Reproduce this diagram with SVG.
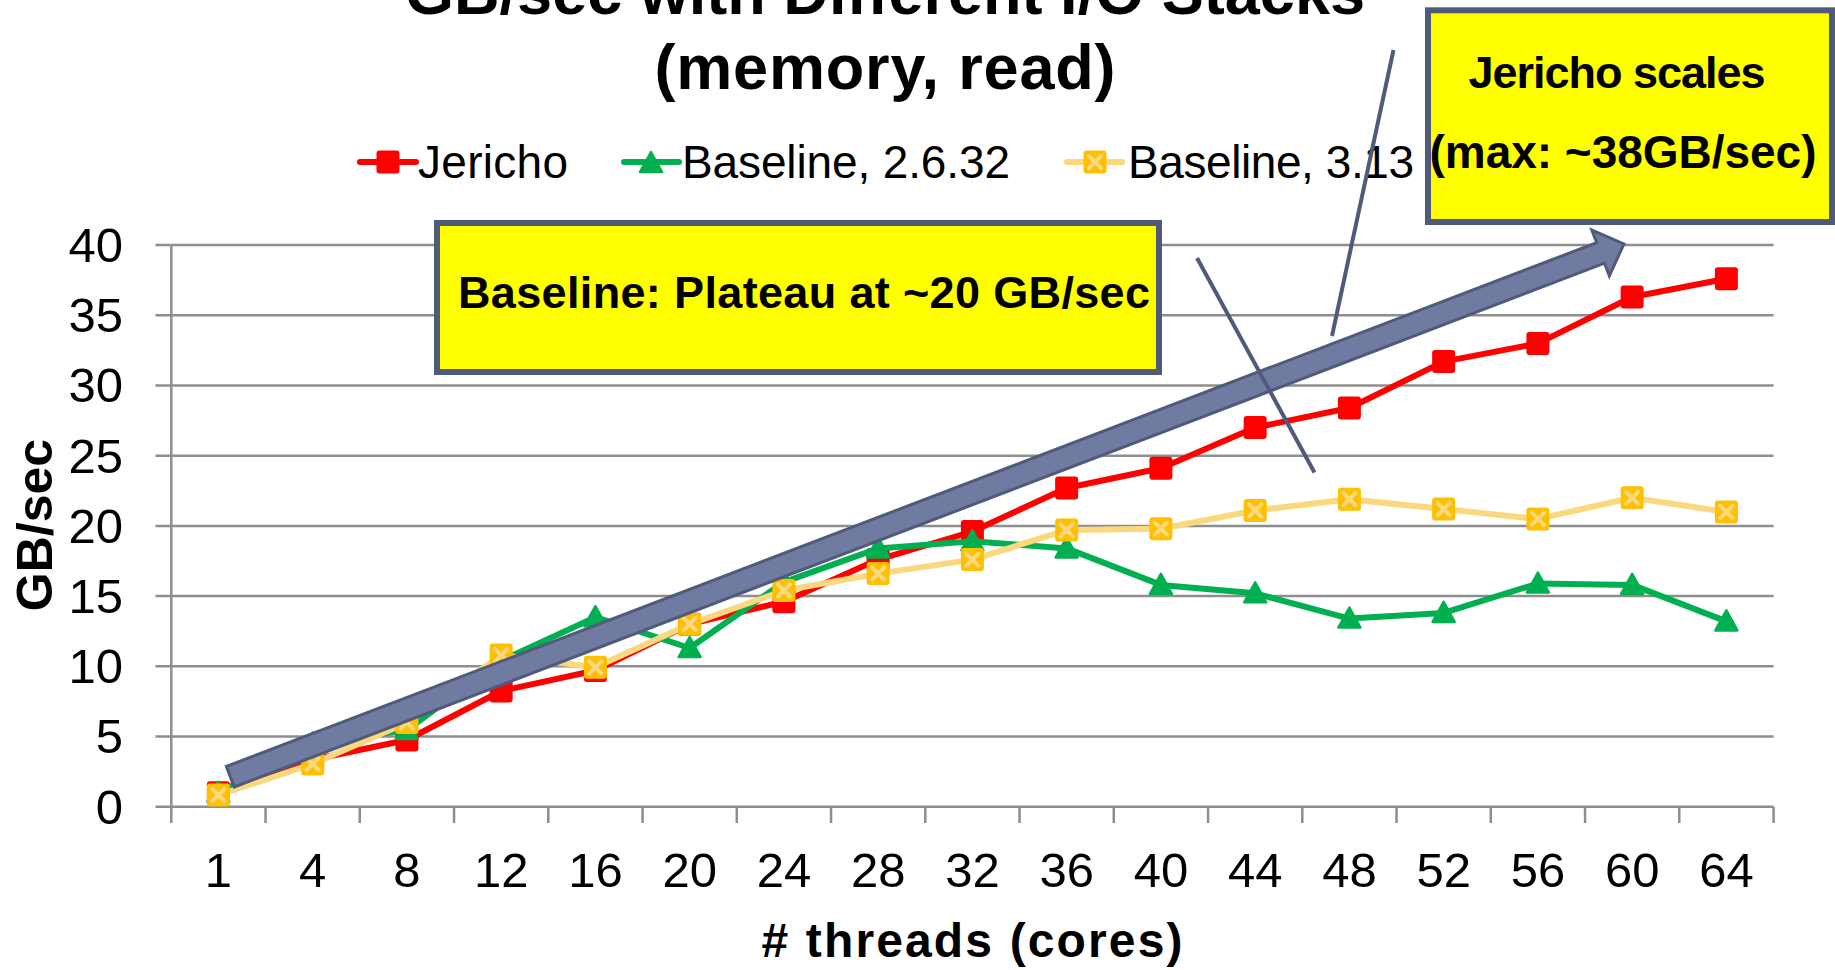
<svg xmlns="http://www.w3.org/2000/svg" xmlns:xlink="http://www.w3.org/1999/xlink" width="1835" height="970" viewBox="0 0 1835 970">
  <style>
    .t { font-family: "Liberation Sans", Arial, sans-serif; fill: #000; }
    .b { font-weight: bold; }
    .ax { font-size: 49px; }
    .leg { font-size: 46px; }
    .grid { stroke: #8E8E8E; stroke-width: 2.5; fill: none; }
    .ln { fill: none; stroke-width: 6; stroke-linejoin: round; stroke-linecap: round; }
    .box { fill: #FFFF00; stroke: #505A79; stroke-width: 6; }
    .callout { stroke: #505A79; stroke-width: 4; fill: none; }
  </style>
  <defs>
    <g id="mSq">
      <rect x="-11.5" y="-11.5" width="23" height="23" rx="3" fill="#FF0000"/>
    </g>
    <g id="mTri">
      <path d="M0,-11 L11,9 L-11,9 Z" fill="#00B050" stroke="#00B050" stroke-width="2.5" stroke-linejoin="round"/>
    </g>
    <g id="mX">
      <rect x="-11.5" y="-11.5" width="23" height="23" rx="3" fill="#FFC000"/>
      <path d="M-6,-6 L6,6 M6,-6 L-6,6" stroke="#FBD980" stroke-width="4" stroke-linecap="round"/>
    </g>
  </defs>

  <rect width="1835" height="970" fill="#FFFFFF"/>

  <!-- title (first line runs off the top edge) -->
  <g id="title">
    <text class="t b" x="885" y="14" font-size="63" text-anchor="middle" textLength="960">GB/sec with Different I/O Stacks</text>
    <text class="t b" x="885" y="89" font-size="63" text-anchor="middle" textLength="461">(memory, read)</text>
  </g>

  <!-- legend -->
  <g id="legend">
    <line x1="360" y1="162" x2="416" y2="162" class="ln" stroke="#FF0000"/>
    <use xlink:href="#mSq" x="388" y="162"/>
    <text class="t leg" x="418" y="178" textLength="150">Jericho</text>
    <line x1="624" y1="162" x2="679" y2="162" class="ln" stroke="#00B050"/>
    <use xlink:href="#mTri" x="651" y="163"/>
    <text class="t leg" x="682" y="178" textLength="328">Baseline, 2.6.32</text>
    <line x1="1067" y1="162" x2="1122" y2="162" class="ln" stroke="#FAD87E"/>
    <use xlink:href="#mX" x="1095" y="162"/>
    <text class="t leg" x="1128" y="178" textLength="286">Baseline, 3.13</text>
  </g>

  <!-- axes and gridlines -->
  <g id="axes">
    <path class="grid" d="M155.5,245.1H1773.6 M155.5,315.3H1773.6 M155.5,385.5H1773.6 M155.5,455.7H1773.6 M155.5,525.9H1773.6 M155.5,596.1H1773.6 M155.5,666.3H1773.6 M155.5,736.5H1773.6 M155.5,806.7H1773.6"/>
    <path class="grid" d="M171.3,245.1V823 M265.55,806.7V823 M359.8,806.7V823 M454.05,806.7V823 M548.3,806.7V823 M642.55,806.7V823 M736.8,806.7V823 M831.05,806.7V823 M925.3,806.7V823 M1019.55,806.7V823 M1113.8,806.7V823 M1208.05,806.7V823 M1302.3,806.7V823 M1396.55,806.7V823 M1490.8,806.7V823 M1585.05,806.7V823 M1679.3,806.7V823 M1773.6,806.7V823"/>
    <g class="t ax" text-anchor="end">
      <text x="123" y="262">40</text>
      <text x="123" y="332">35</text>
      <text x="123" y="402">30</text>
      <text x="123" y="473">25</text>
      <text x="123" y="543">20</text>
      <text x="123" y="613">15</text>
      <text x="123" y="683">10</text>
      <text x="123" y="753">5</text>
      <text x="123" y="824">0</text>
    </g>
    <g class="t ax" text-anchor="middle">
      <text x="218.4" y="887">1</text>
      <text x="312.65" y="887">4</text>
      <text x="406.9" y="887">8</text>
      <text x="501.15" y="887">12</text>
      <text x="595.4" y="887">16</text>
      <text x="689.65" y="887">20</text>
      <text x="783.9" y="887">24</text>
      <text x="878.15" y="887">28</text>
      <text x="972.4" y="887">32</text>
      <text x="1066.65" y="887">36</text>
      <text x="1160.9" y="887">40</text>
      <text x="1255.15" y="887">44</text>
      <text x="1349.4" y="887">48</text>
      <text x="1443.65" y="887">52</text>
      <text x="1537.9" y="887">56</text>
      <text x="1632.15" y="887">60</text>
      <text x="1726.4" y="887">64</text>
    </g>
    <text class="t b" x="972" y="957" font-size="48" text-anchor="middle" textLength="421"># threads (cores)</text>
    <text class="t b" transform="translate(52,525) rotate(-90)" x="0" y="0" font-size="50" text-anchor="middle">GB/sec</text>
  </g>

  <!-- data series -->
  <g id="series-jericho">
    <polyline class="ln" stroke="#FF0000" points="218.4,792.7 312.65,759.7 406.9,740 501.15,691 595.4,670.5 689.65,624.2 783.9,601.7 878.15,559.6 972.4,531.5 1066.65,488 1160.9,468.3 1255.15,427.6 1349.4,408 1443.65,361.6 1537.9,343.4 1632.15,297 1726.4,278.8"/>
    <use xlink:href="#mSq" x="218.4" y="792.7"/>
    <use xlink:href="#mSq" x="312.65" y="759.7"/>
    <use xlink:href="#mSq" x="406.9" y="740"/>
    <use xlink:href="#mSq" x="501.15" y="691"/>
    <use xlink:href="#mSq" x="595.4" y="670.5"/>
    <use xlink:href="#mSq" x="689.65" y="624.2"/>
    <use xlink:href="#mSq" x="783.9" y="601.7"/>
    <use xlink:href="#mSq" x="878.15" y="559.6"/>
    <use xlink:href="#mSq" x="972.4" y="531.5"/>
    <use xlink:href="#mSq" x="1066.65" y="488"/>
    <use xlink:href="#mSq" x="1160.9" y="468.3"/>
    <use xlink:href="#mSq" x="1255.15" y="427.6"/>
    <use xlink:href="#mSq" x="1349.4" y="408"/>
    <use xlink:href="#mSq" x="1443.65" y="361.6"/>
    <use xlink:href="#mSq" x="1537.9" y="343.4"/>
    <use xlink:href="#mSq" x="1632.15" y="297"/>
    <use xlink:href="#mSq" x="1726.4" y="278.8"/>
  </g>
  <g id="series-baseline-2632">
    <polyline class="ln" stroke="#00B050" points="218.4,792.7 312.65,743.5 406.9,730 501.15,660.7 595.4,617.2 689.65,648 783.9,582.1 878.15,548.4 972.4,541.3 1066.65,548.4 1160.9,584.9 1255.15,593.3 1349.4,618.6 1443.65,612.9 1537.9,583.5 1632.15,584.9 1726.4,621.4"/>
    <use xlink:href="#mTri" x="218.4" y="792.7"/>
    <use xlink:href="#mTri" x="312.65" y="743.5"/>
    <use xlink:href="#mTri" x="406.9" y="730"/>
    <use xlink:href="#mTri" x="501.15" y="660.7"/>
    <use xlink:href="#mTri" x="595.4" y="617.2"/>
    <use xlink:href="#mTri" x="689.65" y="648"/>
    <use xlink:href="#mTri" x="783.9" y="582.1"/>
    <use xlink:href="#mTri" x="878.15" y="548.4"/>
    <use xlink:href="#mTri" x="972.4" y="541.3"/>
    <use xlink:href="#mTri" x="1066.65" y="548.4"/>
    <use xlink:href="#mTri" x="1160.9" y="584.9"/>
    <use xlink:href="#mTri" x="1255.15" y="593.3"/>
    <use xlink:href="#mTri" x="1349.4" y="618.6"/>
    <use xlink:href="#mTri" x="1443.65" y="612.9"/>
    <use xlink:href="#mTri" x="1537.9" y="583.5"/>
    <use xlink:href="#mTri" x="1632.15" y="584.9"/>
    <use xlink:href="#mTri" x="1726.4" y="621.4"/>
  </g>
  <g id="series-baseline-313">
    <polyline class="ln" stroke="#FAD87E" points="218.4,795 312.65,764 406.9,722.5 501.15,655.1 595.4,667.3 689.65,624.2 783.9,590.5 878.15,573.6 972.4,559.6 1066.65,530.1 1160.9,528.7 1255.15,510.5 1349.4,499.2 1443.65,509.1 1537.9,518.9 1632.15,497.8 1726.4,511.9"/>
    <use xlink:href="#mX" x="218.4" y="795"/>
    <use xlink:href="#mX" x="312.65" y="764"/>
    <use xlink:href="#mX" x="406.9" y="722.5"/>
    <use xlink:href="#mX" x="501.15" y="655.1"/>
    <use xlink:href="#mX" x="595.4" y="667.3"/>
    <use xlink:href="#mX" x="689.65" y="624.2"/>
    <use xlink:href="#mX" x="783.9" y="590.5"/>
    <use xlink:href="#mX" x="878.15" y="573.6"/>
    <use xlink:href="#mX" x="972.4" y="559.6"/>
    <use xlink:href="#mX" x="1066.65" y="530.1"/>
    <use xlink:href="#mX" x="1160.9" y="528.7"/>
    <use xlink:href="#mX" x="1255.15" y="510.5"/>
    <use xlink:href="#mX" x="1349.4" y="499.2"/>
    <use xlink:href="#mX" x="1443.65" y="509.1"/>
    <use xlink:href="#mX" x="1537.9" y="518.9"/>
    <use xlink:href="#mX" x="1632.15" y="497.8"/>
    <use xlink:href="#mX" x="1726.4" y="511.9"/>
  </g>

  <!-- trend arrow -->
  <g id="trend-arrow">
    <polygon transform="translate(230.3,776.7) rotate(-20.92)" points="0,-11 1467,-11 1467,-24.5 1492,0 1467,24.5 1467,11 0,11" fill="#6F7BA0" stroke="#505A79" stroke-width="3" stroke-linejoin="miter"/>
  </g>

  <!-- callout boxes -->
  <g id="note-baseline">
    <rect class="box" x="437" y="223" width="722" height="149"/>
    <text class="t b" x="458" y="308" font-size="45" textLength="692">Baseline: Plateau at ~20 GB/sec</text>
  </g>
  <g id="note-jericho">
    <rect class="box" x="1428" y="10.3" width="404" height="211.7"/>
    <text class="t b" x="1617" y="88" font-size="45" text-anchor="middle" textLength="297">Jericho scales</text>
    <text class="t b" x="1623" y="168" font-size="46" text-anchor="middle" textLength="387">(max: ~38GB/sec)</text>
  </g>

  <!-- callout leader lines -->
  <g id="connectors">
    <line class="callout" x1="1393.5" y1="50" x2="1332" y2="336"/>
    <line class="callout" x1="1197" y1="258" x2="1314.5" y2="472.5"/>
  </g>
</svg>
